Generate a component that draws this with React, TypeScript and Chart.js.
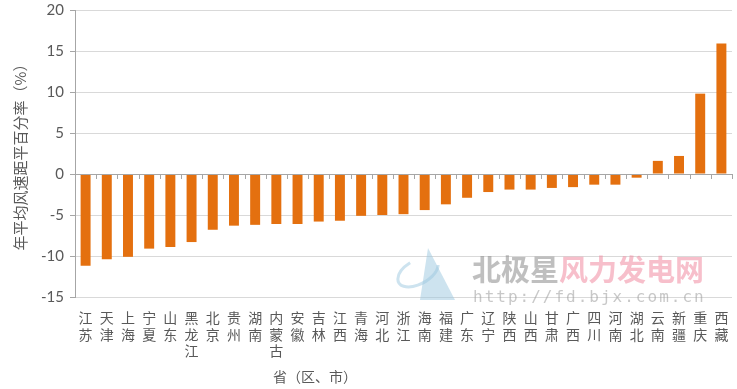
import React, { useEffect, useRef } from "react";
import { Chart, registerables } from "chart.js";

Chart.register(...registerables);

const categories = ["江苏","天津","上海","宁夏","山东","黑龙江","北京","贵州","湖南","内蒙古","安徽","吉林","江西","青海","河北","浙江","海南","福建","广东","辽宁","陕西","山西","甘肃","广西","四川","河南","湖北","云南","新疆","重庆","西藏"];
const values = [-11.2,-10.4,-10.1,-9.1,-8.9,-8.3,-6.8,-6.3,-6.2,-6.1,-6.1,-5.8,-5.7,-5.1,-5.0,-4.9,-4.4,-3.7,-2.9,-2.2,-1.9,-1.9,-1.7,-1.6,-1.3,-1.3,-0.45,1.6,2.2,9.8,15.9];
const yMin = -15;
const yMax = 20;
const yStep = 5;
const yTitle = "年平均风速距平百分率（%）";
const xTitle = "省（区、市）";
const watermarkA = "北极星";
const watermarkB = "风力发电网";
const watermarkUrl = "http://fd.bjx.com.cn";

const extras = {
  id: "extras",
  afterDatasetsDraw(chart: any) {
    const { ctx, chartArea, scales } = chart;
    const y = scales.y;
    const y0 = y.getPixelForValue(0);
    ctx.save();
    ctx.strokeStyle = "#A6A6A6";
    ctx.lineWidth = 1;
    ctx.beginPath();
    ctx.moveTo(chartArea.left, Math.round(y0) + 0.5);
    ctx.lineTo(chartArea.right, Math.round(y0) + 0.5);
    const n = categories.length;
    const w = (chartArea.right - chartArea.left) / n;
    for (let i = 1; i <= n; i++) {
      const px = Math.round(chartArea.left + i * w) + 0.5;
      ctx.moveTo(px, Math.round(y0));
      ctx.lineTo(px, Math.round(y0) + 5);
    }
    ctx.stroke();
    ctx.restore();
  },
  afterDraw(chart: any) {
    const { ctx } = chart;
    ctx.save();
    ctx.fillStyle = "#595959";
    ctx.font = "14px 'Noto Sans CJK SC'";
    ctx.textAlign = "center";
    ctx.textBaseline = "middle";
    ctx.fillText(xTitle, 315, 377);
    // watermark
    ctx.globalAlpha = 0.5;
    ctx.fillStyle = "#9cc8e0";
    ctx.beginPath();
    ctx.moveTo(420, 300);
    ctx.lineTo(428, 248);
    ctx.lineTo(455, 300);
    ctx.closePath();
    ctx.fill();
    ctx.strokeStyle = "#9cc8e0";
    ctx.lineWidth = 3;
    ctx.beginPath();
    ctx.ellipse(418, 272, 22, 12, -0.5, 0.3, 4.6);
    ctx.stroke();
    ctx.globalAlpha = 0.55;
    ctx.textAlign = "left";
    ctx.textBaseline = "alphabetic";
    ctx.font = "bold 29px 'Noto Sans CJK SC'";
    ctx.fillStyle = "#8a8a8a";
    ctx.fillText(watermarkA, 472, 281);
    const wa = ctx.measureText(watermarkA).width;
    ctx.fillStyle = "#f08aa0";
    ctx.fillText(watermarkB, 472 + wa, 281);
    ctx.font = "16px 'DejaVu Sans Mono'";
    ctx.fillStyle = "#9a9a9a";
    (ctx as any).letterSpacing = "2px";
    ctx.fillText(watermarkUrl, 473, 302);
    ctx.restore();
  },
};

export default function App() {
  const ref = useRef<HTMLCanvasElement>(null);
  useEffect(() => {
    const chart = new Chart(ref.current!, {
      type: "bar",
      data: {
        labels: categories.map((c) => c.split("")),
        datasets: [
          {
            data: values,
            backgroundColor: "#E4700F",
            barPercentage: 0.47,
            categoryPercentage: 1,
          },
        ],
      },
      options: {
        animation: false,
        responsive: true,
        maintainAspectRatio: false,
        layout: { padding: { left: 11, top: 10, right: 5, bottom: 0 } },
        plugins: { legend: { display: false }, tooltip: { enabled: false } },
        scales: {
          x: {
            grid: { display: false, drawTicks: false },
            border: { display: false },
            ticks: {
              autoSkip: false,
              maxRotation: 0,
              minRotation: 0,
              padding: 12,
              color: "#595959",
              font: { family: "'Noto Sans CJK SC'", size: 14, lineHeight: 1.2 },
            },
            afterFit(scale: any) {
              scale.height = 92;
              scale.paddingLeft = 0;
              scale.paddingRight = 0;
            },
          },
          y: {
            min: yMin,
            max: yMax,
            ticks: {
              stepSize: yStep,
              padding: 6,
              color: "#595959",
              font: { family: "Lato", size: 15 },
            },
            grid: {
              color: "#D9D9D9",
              tickColor: "#A6A6A6",
              tickLength: 5,
            },
            border: { display: true, color: "#A6A6A6" },
            title: {
              display: true,
              text: yTitle,
              color: "#595959",
              font: { family: "'Noto Sans CJK SC'", size: 15 },
              padding: { top: 0, bottom: 0 },
            },
            afterFit(scale: any) {
              scale.width = 64;
              scale.paddingTop = 0;
              scale.paddingBottom = 0;
            },
          },
        },
      },
      plugins: [extras],
    });
    return () => chart.destroy();
  }, []);
  return (
    <div style={{ position: "fixed", left: 0, top: 0, width: 737, height: 389, background: "#fff" }}>
      <canvas ref={ref} />
    </div>
  );
}
